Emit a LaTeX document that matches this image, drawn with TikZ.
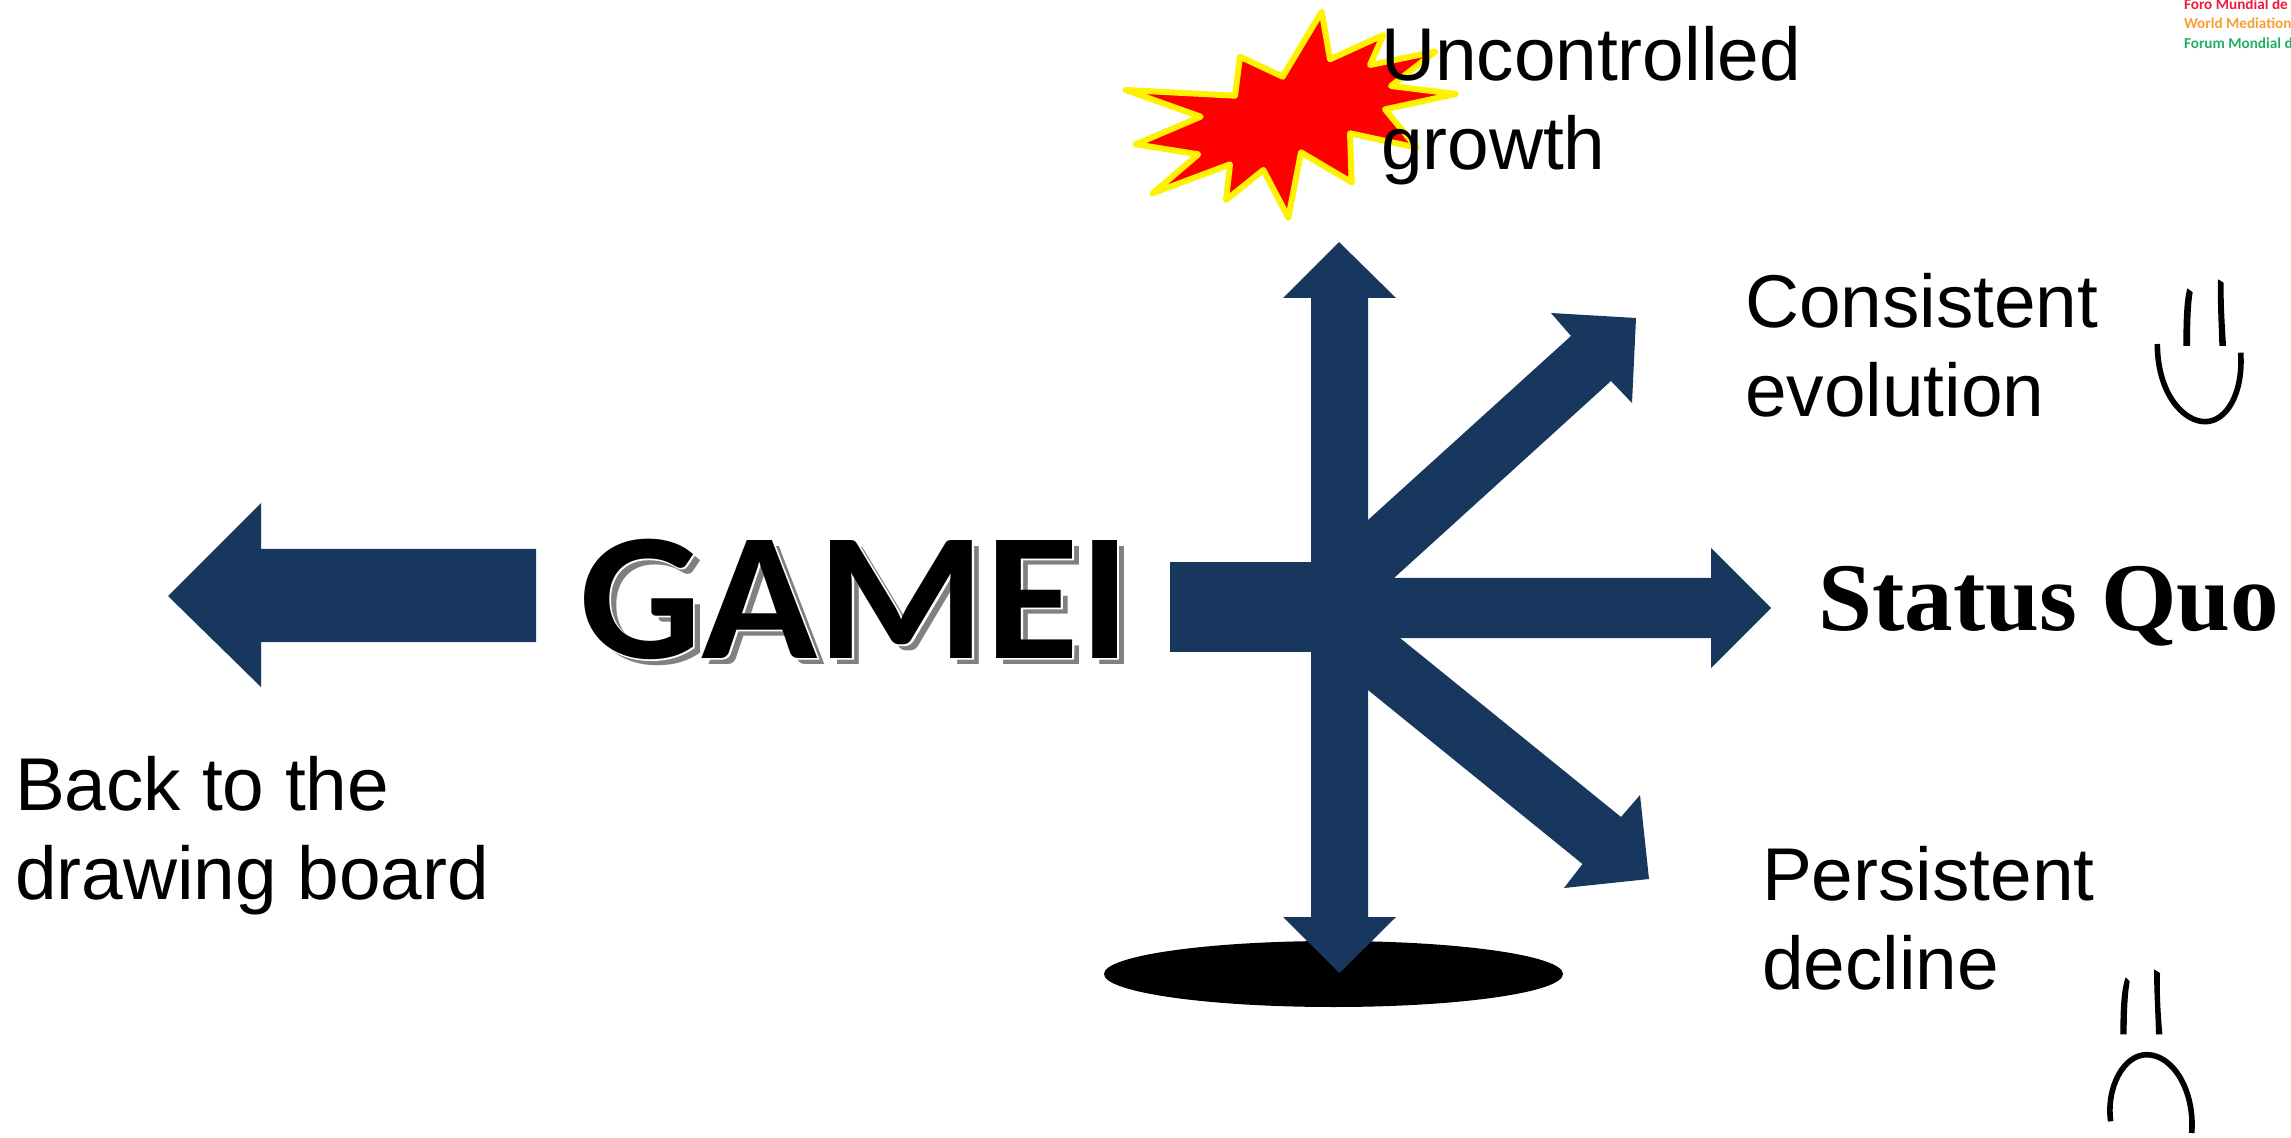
\documentclass[tikz,border=0pt]{standalone}
\usepackage{fontspec}
\setmainfont{Liberation Sans}
\newfontfamily\calibrina{Carlito}
\newfontfamily\titlefont{Carlito}[FakeStretch=1.055]
\newfontfamily\statusfont{Liberation Serif}
\definecolor{arrowblue}{HTML}{17375E}
\definecolor{logored}{HTML}{EE1C3A}
\definecolor{logoorange}{HTML}{F7A030}
\definecolor{logogreen}{HTML}{21B060}
\tikzset{
  arrowshape/.style={fill=arrowblue,draw=none},
  lab/.style={anchor=base west,inner sep=0pt,outer sep=0pt,align=left,text=black,font=\fontsize{37.4}{44.5}\selectfont},
  title/.style={anchor=base west,inner sep=0pt,outer sep=0pt,font=\titlefont\bfseries\fontsize{91}{100}\selectfont},
  logo/.style={anchor=base west,inner sep=0pt,outer sep=0pt,font=\calibrina\bfseries\fontsize{7.6}{9}\selectfont},
  facepen/.style={draw=black,line width=2.8pt,line cap=butt},
  faceeye/.style={fill=black,draw=none}
}
\begin{document}
\begin{tikzpicture}[x=0.5pt,y=-0.5pt]
\useasboundingbox (0,0) rectangle (2291,1138);
\fill[white] (0,0) rectangle (2291,1138);
% hole
\fill[black] (1333.5,974) ellipse [x radius=229.5, y radius=33];
% left arrow
\path[arrowshape] (168,596) -- (261,503) -- (261,549) -- (536,549) -- (536,642) -- (261,642) -- (261,687) -- cycle;
% stem block
\path[arrowshape] (1170,562) rectangle (1368,652);
% up arrow
\path[arrowshape] (1339,242) -- (1396,298) -- (1368,298) -- (1368,917) -- (1396,917) -- (1339.5,973) -- (1283,917) -- (1311,917) -- (1311,298) -- (1283,298) -- cycle;
% right arrow
\path[arrowshape] (1360,578) -- (1711,578) -- (1711,548) -- (1771,608) -- (1711,668) -- (1711,638) -- (1360,638) -- cycle;
% diagonal up
\path[arrowshape] (1368,520) -- (1571,336) -- (1551,313) -- (1636,318) -- (1632,403) -- (1611,381) -- (1394,578) -- (1340,600) -- cycle;
% diagonal down
\path[arrowshape] (1400,638) -- (1621,817) -- (1640,795) -- (1649,879) -- (1564,888) -- (1582.5,864) -- (1368,690) -- (1340,620) -- cycle;
% burst
\begin{scope}[shift={(1100,0)},x=0.16667pt,y=-0.16667pt]
\draw[fill=red,draw=yellow,line width=3pt,line join=round]
 (77,270) -- (405,287) -- (420,170) -- (548,230) -- (665,35) -- (690,178) -- (850,105) -- (810,195) -- (1005,155) -- (873,258) -- (1067,282) -- (855,328) -- (950,443) -- (750,400) -- (755,547) -- (603,457) -- (565,653) -- (490,510) -- (378,600) -- (390,493) -- (158,580) -- (295,463) -- (107,433) -- (302,350) -- cycle;
\end{scope}
% smile
\begin{scope}[shift={(2080,260)},x=0.16667pt,y=-0.16667pt]
\path[faceeye] (310,258) .. controls (310,180) and (312,120) .. (322,85) -- (338,97) .. controls (332,130) and (330,190) .. (330,258) -- cycle;
\path[faceeye] (418,258) .. controls (416,190) and (412,120) .. (414,58) -- (431,68) .. controls (430,130) and (434,190) .. (438,258) -- cycle;
\draw[facepen] (232,252) .. controls (232,400) and (310,485) .. (375,485) .. controls (440,485) and (490,400) .. (482,278);
\end{scope}
% frown
\begin{scope}[shift={(2080,958)},x=0.16667pt,y=-0.16667pt]
\path[faceeye] (121,229) .. controls (121,160) and (123,95) .. (137,58) -- (149,70) .. controls (142,110) and (140,170) .. (140,229) -- cycle;
\path[faceeye] (228,229) .. controls (226,160) and (222,95) .. (222,34) -- (240,45) .. controls (238,110) and (242,170) .. (247,229) -- cycle;
\draw[facepen] (92,490) .. controls (78,390) and (130,290) .. (200,290) .. controls (280,290) and (345,400) .. (335,525);
\end{scope}
% texts
\node[title,text=black!50] (gameishadow) at (586,664) {GAMEI};
\node[title,text=white] (gameiring) at (580,659) {\addfontfeature{FakeBold=0.8}GAMEI};
\node[title,text=black] (gamei) at (579,658) {GAMEI};
\node[lab] (uncontrolled) at (1381,170) {Uncontrolled\\growth};
\node[lab] (consistent) at (1745,416.5) {Consistent\\evolution};
\node[lab] (back) at (15,899) {Back to the\\drawing board};
\node[lab] (persistent) at (1762,989) {Persistent\\decline};
\node[anchor=base west,inner sep=0pt,font=\statusfont\bfseries\fontsize{48.5}{50}\selectfont] (status) at (1818,631) {Status Quo};
\node[logo,text=logored] (logoa) at (2184,10) {Foro Mundial de};
\node[logo,text=logoorange] (logob) at (2184,29) {World Mediation};
\node[logo,text=logogreen] (logoc) at (2184,49) {Forum Mondial d};
\end{tikzpicture}
\end{document}
